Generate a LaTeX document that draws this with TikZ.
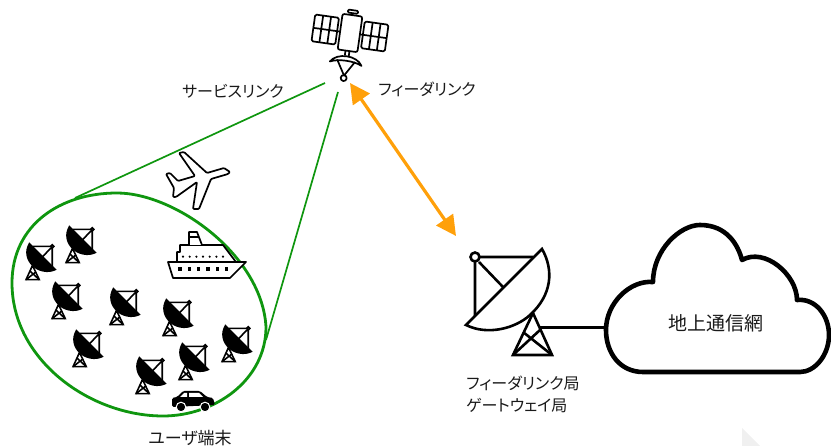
\documentclass[tikz,border=0pt]{standalone}
\usepackage{fontspec}
\setmainfont{Noto Sans CJK JP}[RawFeature=+palt]
\usetikzlibrary{arrows.meta}
\definecolor{linkgreen}{RGB}{15,150,15}
\definecolor{feedorange}{RGB}{255,160,10}
\tikzset{
  labeltext/.style={inner sep=0pt,font=\fontsize{16}{22}\selectfont,text=black!90},
  greenline/.style={draw=linkgreen,line width=1.7},
  outlined/.style={draw=black,line width=1.7,line join=round},
  pics/dishant/.style={code={
    \draw (25,13) -- (5,55) -- (44,55) -- cycle;
    \draw (15,32) -- (44,55) (32,30) -- (5,55);
    \draw (-33,-39) -- (-33,18) (-29,-43) -- (25,-43) (-29,-38) -- (-5,-13);
    \draw (-33,-43) circle (4.5);
    \draw [fill=#1] (34,-51) .. controls (46,-30) and (44,-5) .. (22,15)
      .. controls (8,28) and (-20,36) .. (-42,25) -- cycle;
  }}
}
\begin{document}
\begin{tikzpicture}[x=1pt,y=-1pt]
\useasboundingbox (0,0) rectangle (831,446);
\fill [black!6] (742,428) -- (760,446) -- (742,446) -- cycle;
\coordinate (satleft) at (325,83);
\coordinate (satright) at (338,92);
\coordinate (spotleft) at (75,198);
\coordinate (spotright) at (266,340);
\coordinate (feedtop) at (350,83);
\coordinate (feedbottom) at (456,236);
\coordinate (towerport) at (540,328);
\coordinate (cloudport) at (606,328);
\draw [greenline] (satleft) -- (spotleft);
\draw [greenline] (satright) -- (spotright);
\draw [linkgreen,line width=2.8] (117,193) .. controls (175,193) and (262,255) .. (266,327)
  .. controls (266,380) and (215,416) .. (163,416)
  .. controls (90,416) and (12,360) .. (12,283)
  .. controls (12,225) and (60,193) .. cycle;
\draw [feedorange,line width=3.2,{Triangle[length=20,width=20]}-{Triangle[length=20,width=20]}] (feedtop) -- (feedbottom);
\begin{scope}[shift={(350,33)},rotate=-8,outlined]
\draw [rounded corners=2] (-10,-18) rectangle (10,18);
\draw [rounded corners=1] (-5,-23) rectangle (5,-20);
\draw (0,-20) -- (0,-18) (-13,0) -- (-10,0) (13,0) -- (10,0);
\draw [rounded corners=1.5] (-37,-13.5) rectangle (-13,13.5);
\draw [rounded corners=1.5] (13,-13.5) rectangle (37,13.5);
\draw (-29,-13.5) -- (-29,13.5) (-21,-13.5) -- (-21,13.5) (-37,0) -- (-13,0);
\draw (21,-13.5) -- (21,13.5) (29,-13.5) -- (29,13.5) (13,0) -- (37,0);
\draw (-2,18) -- (-2,23) (2,18) -- (2,23);
\draw (-16,31) .. controls (-10,21) and (10,21) .. (16,31) .. controls (8,27) and (-8,27) .. cycle;
\draw (-9,28) -- (0,43) -- (9,28);
\draw (0,45.5) circle (3);
\end{scope}
\draw [outlined,rounded corners=1] (230,172) -- (224,168) -- (207,173) -- (184,152) -- (179,153) -- (195,176) -- (178,181) -- (170,173) -- (166,174) -- (174,188) -- (173,197) -- (176,197) -- (197,182) -- (193,209) -- (199,209) -- (211,179) -- (228,174) -- cycle;
\draw [outlined,fill=white] (177,262) -- (177,252) -- (180,252) -- (180,245) -- (223,245) -- (236,262);
\draw [outlined,fill=white] (189,245) -- (189,232) -- (197,232) -- (202,245) (189,237) -- (199,237);
\draw [outlined,fill=white] (168,262) -- (246,262) -- (230,278) -- (173,278) -- cycle;
\foreach \dotx in {183,189.7,196.4,203,209.7,216.4,223} \fill (\dotx,256.7) circle (1.2);
\foreach \dotx in {180,189.3,198.6,208,217.3,226.6} \fill (\dotx-1.8,267.5) rectangle (\dotx+1.8,271.1);
\fill [rounded corners=1.5] (172,407) -- (172,398) -- (177,397) -- (183,391) -- (200,391) -- (207,397) -- (213,398) -- (215,405) -- cycle;
\fill [white] (180,397) -- (184,393) -- (187,393) -- (187,397) -- cycle;
\fill [white] (189,393) -- (199,393) -- (203,397) -- (189,397) -- cycle;
\draw [white,line width=1,fill=black] (181,407) circle (4.8) (205,407) circle (4.8);
\foreach \dishx/\dishy in {41/261,81/244,67/300,125/306,178/317,88/348,151/375,194/361,237/343}
  \pic [xscale=-0.34,yscale=0.34,line width=1.6] at (\dishx,\dishy) {dishant=black};
\pic [line width=2.6] at (508,300) {dishant=white};
\draw [black,line width=3] (towerport) -- (cloudport);
\draw [black,fill=white,line width=4.6,line join=round] (643,372) .. controls (620,372) and (606,353) .. (606,330)
  .. controls (606,303) and (630,280) .. (653,282)
  .. controls (653,250) and (680,225) .. (700,225)
  .. controls (727,225) and (738,245) .. (742,260)
  .. controls (765,247) and (797,275) .. (797,300)
  .. controls (815,298) and (829,315) .. (829,335)
  .. controls (829,355) and (815,372) .. (800,372) -- cycle;
\node [labeltext] (servicelabel) at (233,91) {サービスリンク};
\node [labeltext] (feederlabel) at (427,89) {フィーダリンク};
\node [labeltext,font=\fontsize{17}{22}\selectfont] (userlabel) at (190,438) {ユーザ端末};
\node [labeltext,align=left,anchor=north west] (stationlabel) at (466,376) {フィーダリンク局\\ゲートウェイ局};
\node [labeltext,font=\fontsize{19}{24}\selectfont] (cloudlabel) at (716,323) {地上通信網};
\end{tikzpicture}
\end{document}
